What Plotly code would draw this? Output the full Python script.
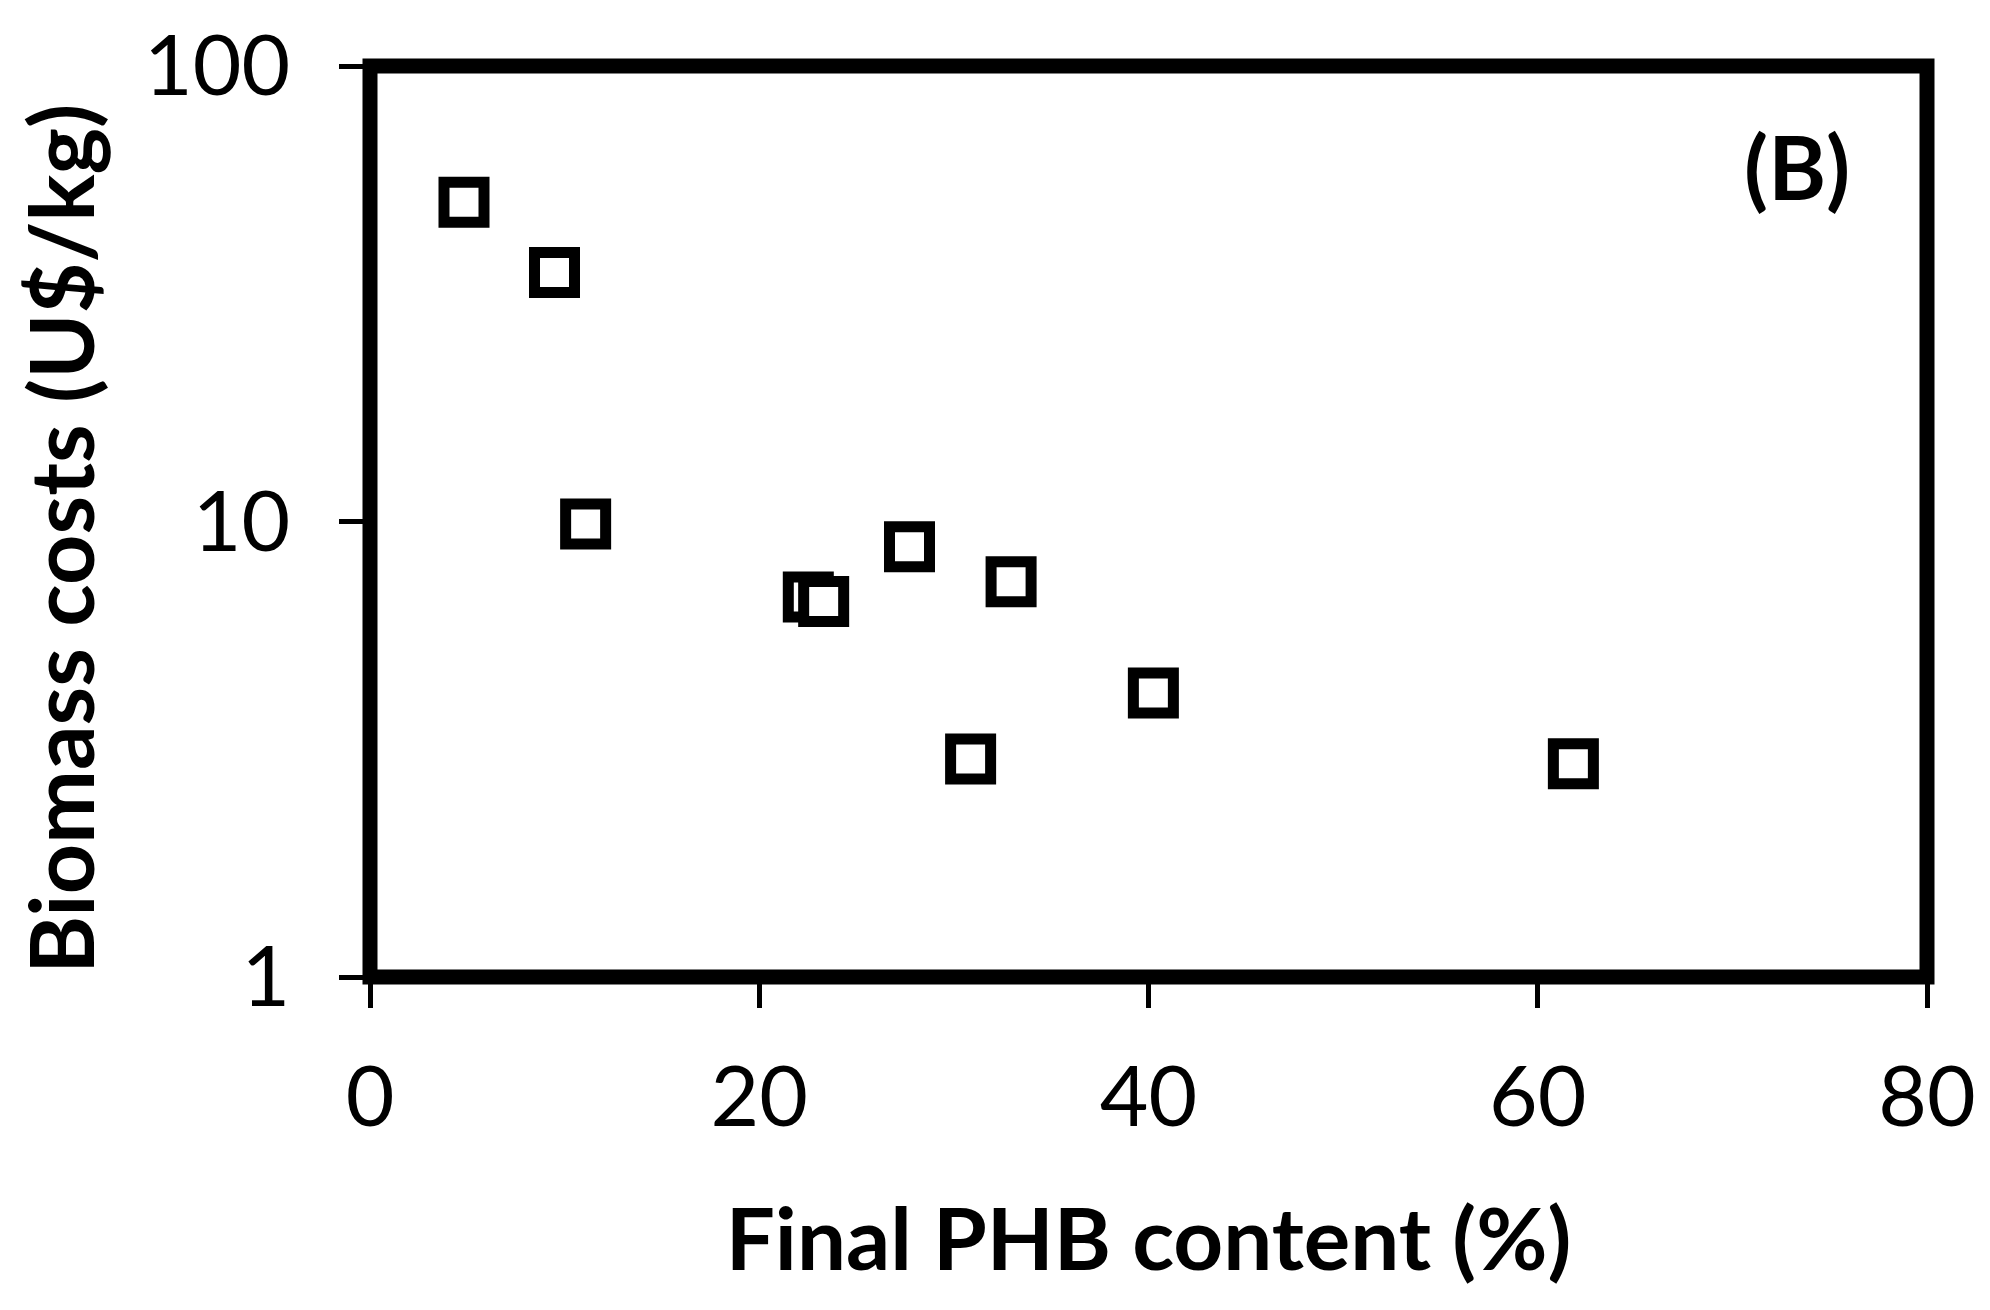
import plotly.graph_objects as go

# Data
phb_content = [4.83, 9.48, 11.08, 22.52, 23.31, 27.72, 30.86, 32.94, 40.25, 61.83]
biomass_cost = [50.2, 35.2, 9.87, 6.83, 6.67, 8.80, 3.01, 7.37, 4.20, 2.94]

x_ticks = [0, 20, 40, 60, 80]
y_ticks = [1, 10, 100]
y_ticktext = ["1", "10", "100"]

FONT = "Lato"

fig = go.Figure()
fig.add_trace(go.Scatter(
    x=phb_content, y=biomass_cost, mode="markers",
    marker=dict(symbol="square", size=40, color="white",
                line=dict(color="black", width=11)),
    showlegend=False, cliponaxis=False,
))

fig.update_layout(
    width=1982, height=1302,
    margin=dict(l=362, r=63, t=58, b=333, autoexpand=False),
    paper_bgcolor="white", plot_bgcolor="white",
    font=dict(family=FONT, color="black"),
    xaxis=dict(
        range=[0, 80], tickvals=x_ticks, showgrid=False, zeroline=False,
        showline=False, ticks="outside", ticklen=30, tickwidth=5, tickcolor="black",
        tickfont=dict(family=FONT, size=84, color="black"),
        ticklabelstandoff=17,
        title=dict(text="<b>Final PHB content (%)</b>",
                   font=dict(family=FONT, size=87, color="black"), standoff=66),
        automargin=False,
    ),
    yaxis=dict(
        type="log", range=[0, 2], tickvals=y_ticks, ticktext=y_ticktext,
        showgrid=False, zeroline=False, showline=False,
        ticks="outside", ticklen=30, tickwidth=5, tickcolor="black",
        tickfont=dict(family=FONT, size=84, color="black"),
        ticklabelstandoff=32,
        automargin=False,
    ),
    shapes=[dict(type="rect", xref="paper", yref="paper", x0=0, x1=1, y0=0, y1=1,
                 line=dict(color="black", width=15), layer="above")],
    annotations=[
        dict(text="<b>(B)</b>", xref="paper", yref="paper",
             x=0.9165, y=0.89, xanchor="center", yanchor="middle",
             showarrow=False, font=dict(family=FONT, size=88, color="black")),
        dict(text="<b>Biomass costs (U$/kg)</b>", xref="paper", yref="paper",
             x=0, y=0.481, xshift=-310, xanchor="center", yanchor="middle",
             textangle=-90, showarrow=False,
             font=dict(family=FONT, size=88, color="black")),
    ],
)

fig.write_html("out.html")
